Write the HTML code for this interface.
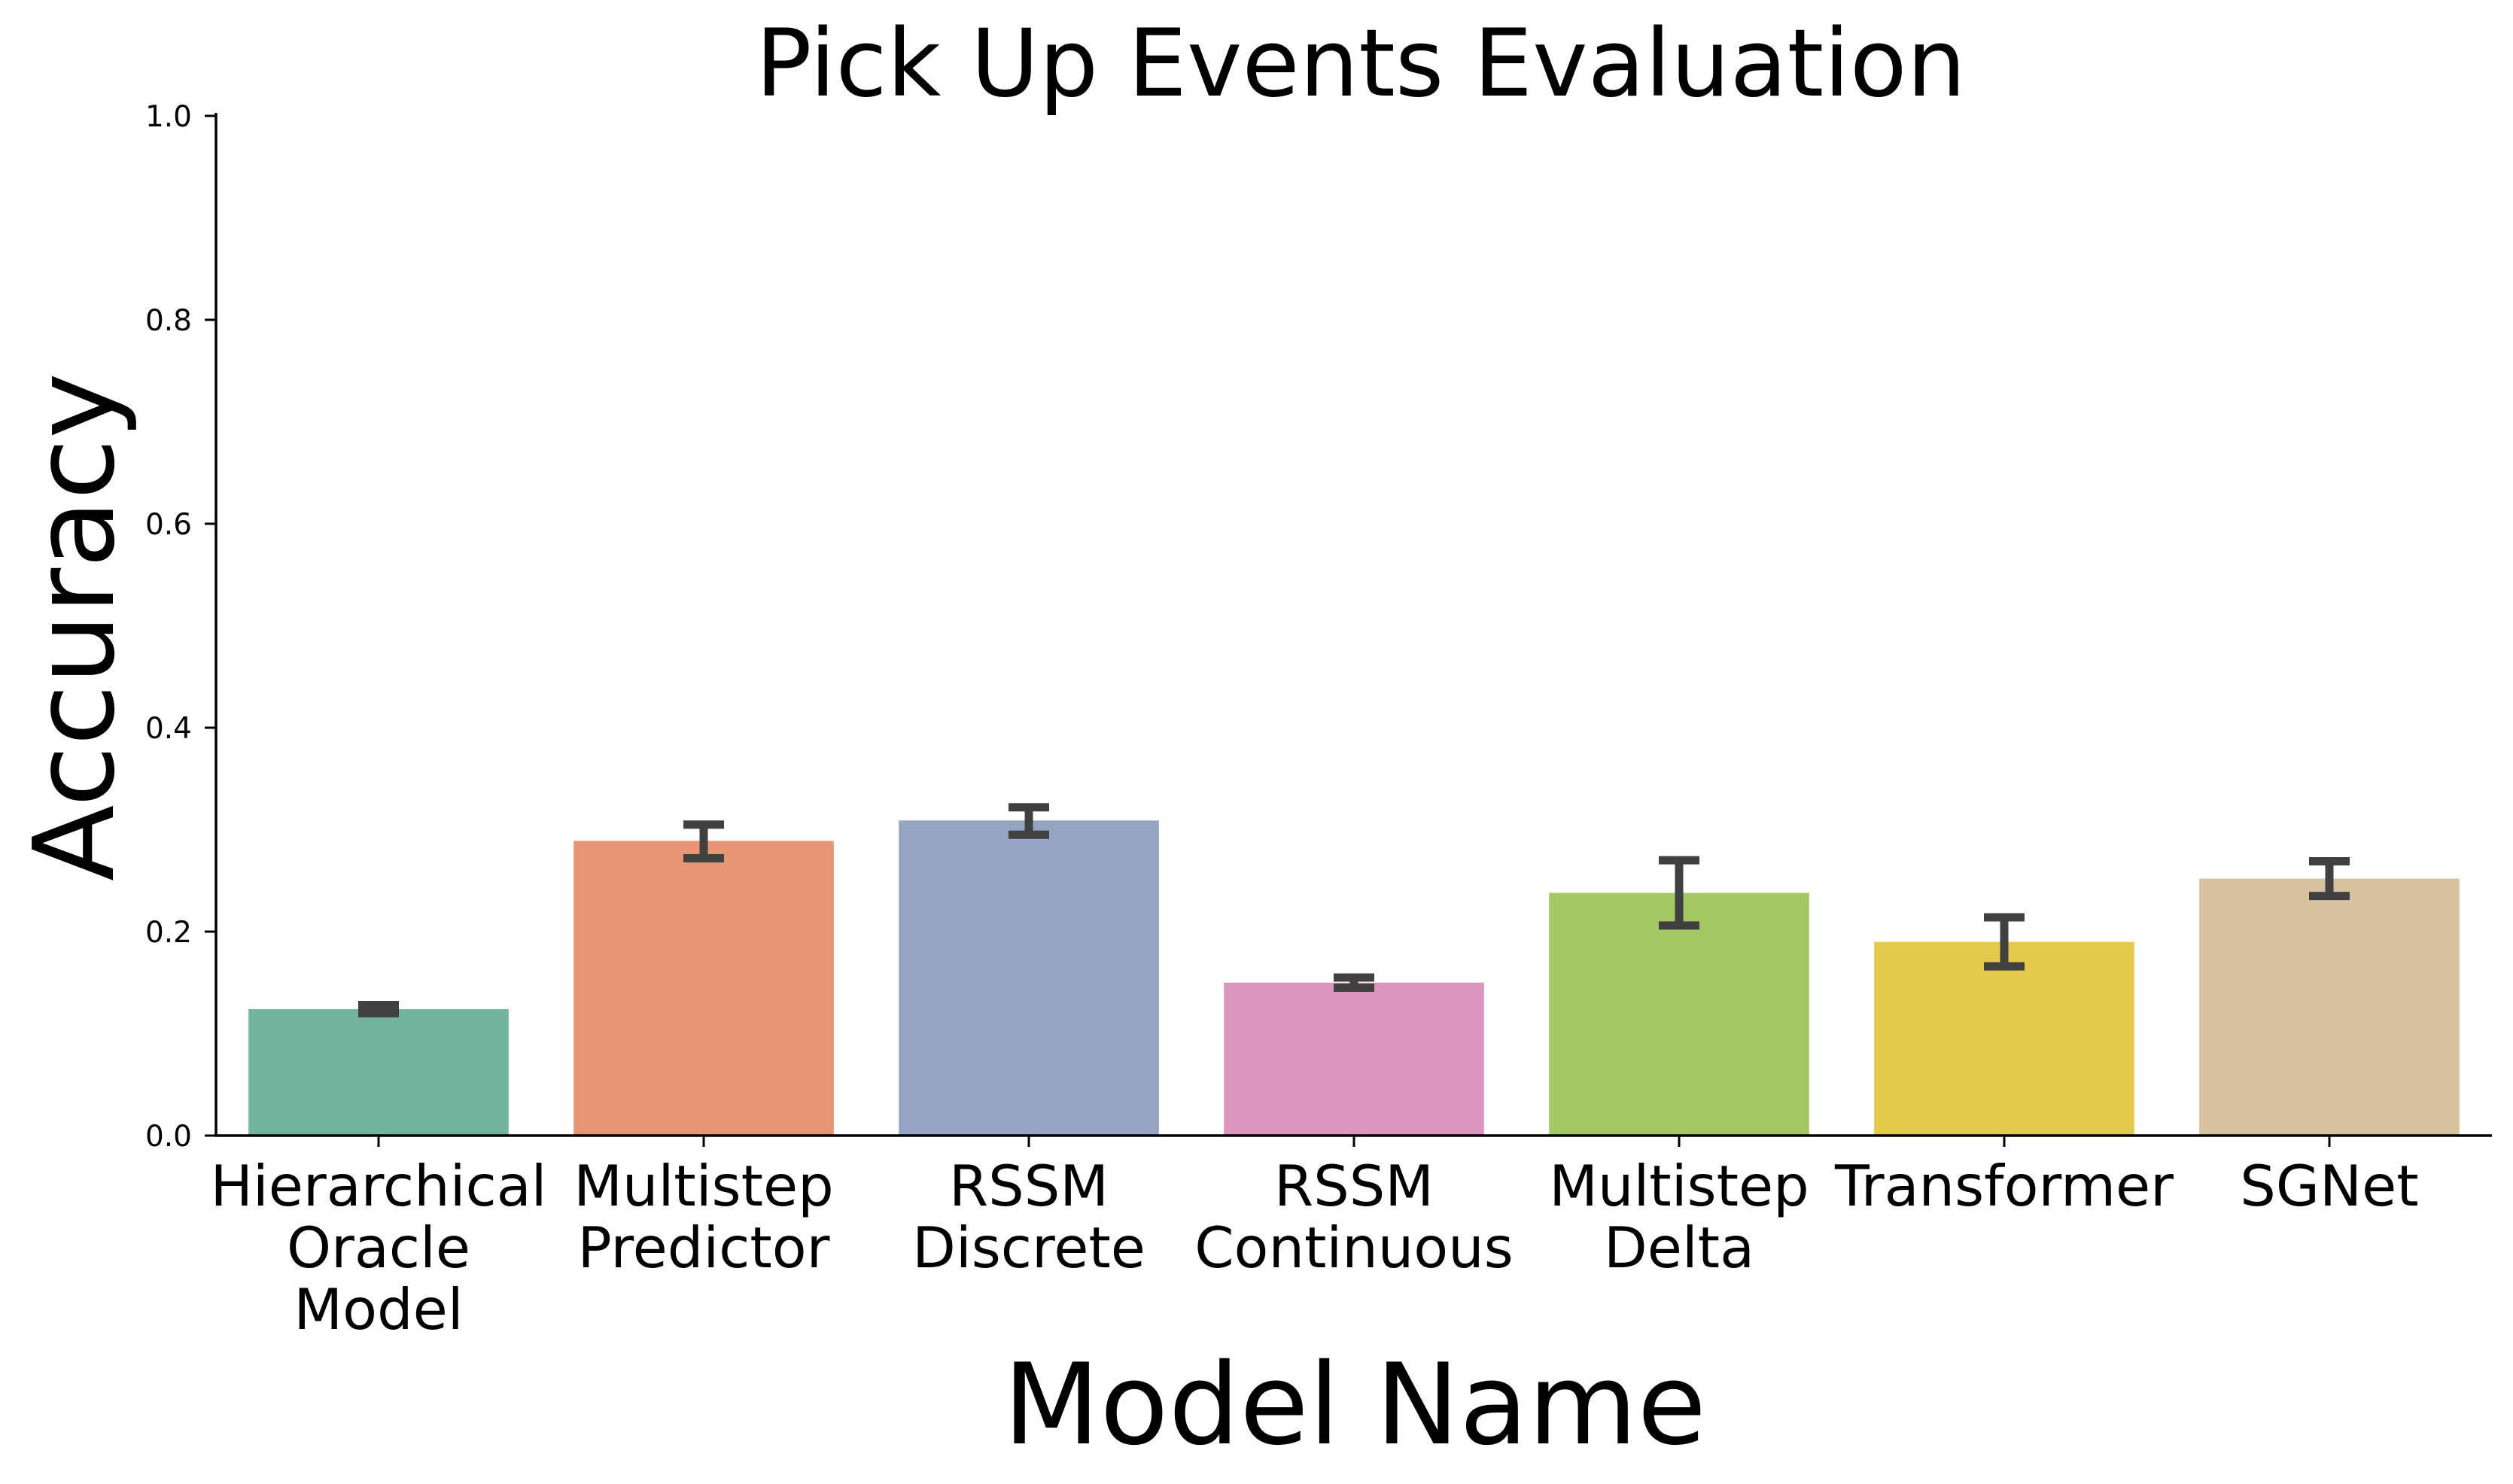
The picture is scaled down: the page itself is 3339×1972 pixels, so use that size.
<!DOCTYPE html>
<html><head><meta charset="utf-8"><style>
html,body{margin:0;padding:0;background:#fff;}
svg{display:block;font-family:"DejaVu Sans","Liberation Sans",sans-serif;}
</style></head><body>
<svg id="chart" width="3339" height="1972" viewBox="0 0 3339 1972">
<text x="1808" y="127" font-size="124" text-anchor="middle">Pick Up Events Evaluation</text>
<text transform="translate(150,833) rotate(-90)" font-size="148" text-anchor="middle">Accuracy</text>
<text x="1800" y="1918" font-size="149" text-anchor="middle">Model Name</text>
<g id="bars"></g><g id="errs"></g><g id="yticks"></g><g id="xticks"></g>
<line x1="287" y1="150" x2="287" y2="1510" stroke="#000" stroke-width="3.5"/>
<line x1="285" y1="1509" x2="3311" y2="1509" stroke="#000" stroke-width="3.5"/>
</svg>
<script>
const categories = [["Hierarchical","Oracle","Model"],["Multistep","Predictor"],["RSSM","Discrete"],["RSSM","Continuous"],["Multistep","Delta"],["Transformer"],["SGNet"]];
const values = [0.124, 0.289, 0.309, 0.150, 0.238, 0.190, 0.252];
const errLow = [0.120, 0.272, 0.295, 0.145, 0.206, 0.166, 0.235];
const errHigh = [0.128, 0.305, 0.322, 0.155, 0.270, 0.214, 0.269];
const colors = ["#73b49f","#e79675","#95a4c3","#db95bf","#a3c866","#e3ca4a","#d9c29f"];
const yTicks = [0.0, 0.2, 0.4, 0.6, 0.8, 1.0];
const tickLabels = ["0.0","0.2","0.4","0.6","0.8","1.0"];
const NS="http://www.w3.org/2000/svg";
const x0=287, step=432, yb=1509, yt=154;
function xc(i){return x0+step*(i+0.5);}
function y(v){return yb-(yb-yt)*v;}
function mk(t,a,p){const e=document.createElementNS(NS,t);for(const k in a)e.setAttribute(k,a[k]);document.getElementById(p).appendChild(e);return e;}
values.forEach((v,i)=>{
  const r=mk('rect',{x:xc(i)-step*0.4,y:y(v),width:step*0.8,height:yb-y(v),fill:colors[i]},'bars');
  
  
  const g=mk('g',{stroke:'#404040','stroke-width':11},'errs');
  
  
  const a=document.createElementNS(NS,'line');a.setAttribute('x1',xc(i));a.setAttribute('x2',xc(i));a.setAttribute('y1',y(errLow[i]));a.setAttribute('y2',y(errHigh[i]));g.appendChild(a);
  [errLow[i],errHigh[i]].forEach(e=>{const c=document.createElementNS(NS,'line');c.setAttribute('x1',xc(i)-27);c.setAttribute('x2',xc(i)+27);c.setAttribute('y1',y(e));c.setAttribute('y2',y(e));g.appendChild(c);});
  const tk=mk('line',{x1:xc(i),x2:xc(i),y1:yb,y2:yb+15,stroke:'#000','stroke-width':3},'xticks');
  
  
  const t=mk('text',{x:xc(i),'font-size':75,'text-anchor':'middle'},'xticks');
  
  
  categories[i].forEach((s,j)=>{const ts=document.createElementNS(NS,'tspan');ts.setAttribute('x',xc(i));ts.setAttribute('y',1602+j*82);ts.textContent=s;t.appendChild(ts);});
});
yTicks.forEach((v,i)=>{
  const l=mk('line',{x1:272,x2:287,y1:y(v),y2:y(v),stroke:'#000','stroke-width':3},'yticks');
  
  
  const t=mk('text',{x:255,y:y(v)+14,'font-size':39,'text-anchor':'end'},'yticks');
  
  
  t.textContent=tickLabels[i];
});
</script>
</body></html>
